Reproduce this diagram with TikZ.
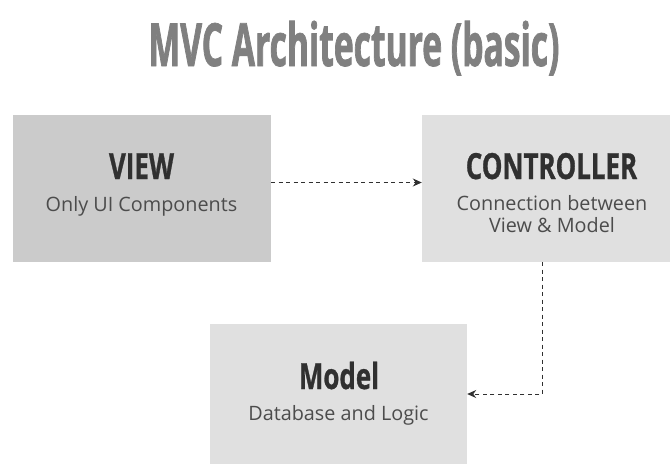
\documentclass[tikz,border=0pt]{standalone}
\usepackage{fontspec}
\setmainfont{Open Sans}
\newfontfamily\headfont[FakeStretch=0.72,FakeBold=0.8]{Open Sans}
\newfontfamily\titlefont[FakeStretch=0.565,FakeBold=1.2]{Open Sans}
\usetikzlibrary{arrows.meta}

\definecolor{titlegray}{HTML}{808080}
\definecolor{headgray}{HTML}{303030}
\definecolor{subgray}{HTML}{4C4C4C}
\definecolor{viewfill}{HTML}{CBCBCB}
\definecolor{boxfill}{HTML}{E0E0E0}

\begin{document}
\begin{tikzpicture}[x=1pt,y=-1pt,
    block/.style={inner sep=0pt, draw=none},
    head/.style={anchor=base, text=headgray, font=\headfont\bfseries\fontsize{36}{40}\selectfont},
    sub/.style={anchor=base, text=subgray, align=center, font=\fontsize{19.8}{21.6}\selectfont},
    link/.style={draw=headgray, line width=1pt, dash pattern=on 4pt off 3.5pt,
      -{Stealth[length=9pt,width=8pt]}}]
\useasboundingbox (0,0) rectangle (670,466);

% title
\node[anchor=base, text=titlegray, font=\titlefont\bfseries\fontsize{59.5}{62}\selectfont]
  (title) at (354,66) {MVC Architecture (basic)};

% boxes
\node[block, fill=viewfill, minimum width=258pt, minimum height=147pt] (view) at (142,188.5) {};
\node[block, fill=boxfill, minimum width=248pt, minimum height=147pt] (ctrl) at (546,188.5) {};
\node[block, fill=boxfill, minimum width=257pt, minimum height=140pt] (model) at (338.5,393.5) {};

% box texts (base = last line)
\node[head] (viewname) at (141.5,179) {VIEW};
\node[sub] (viewtext) at (141.5,211.5) {Only UI Components};
\node[head] (ctrlname) at (551.5,179) {CONTROLLER};
\node[sub] (ctrltext) at (552,232.3) {Connection between\\View \& Model};
\node[head] (modelname) at (339,389) {Model};
\node[sub] (modeltext) at (338.5,420.7) {Database and Logic};

% connectors
\coordinate (turn) at (542.5,394);
\draw[link] ([yshift=6pt]view.east) -- ([yshift=6pt]ctrl.west);
\draw[link] (ctrl.south -| turn) -- (turn) -- (turn -| model.east);
\end{tikzpicture}
\end{document}
